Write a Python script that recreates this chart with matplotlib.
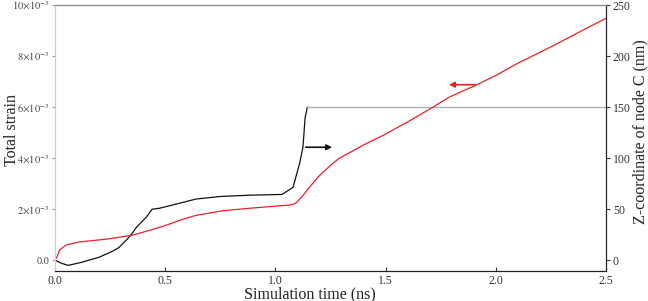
import matplotlib
matplotlib.use("Agg")
import matplotlib.pyplot as plt
from matplotlib.ticker import FuncFormatter

plt.rcParams['font.family'] = ['Liberation Serif', 'DejaVu Serif']
plt.rcParams['mathtext.fontset'] = 'stix'

# total strain (left axis, units of 1e-3)
t_strain = [0.0, 0.03, 0.06, 0.12, 0.2, 0.26, 0.29, 0.34, 0.37, 0.415, 0.44, 0.475,
            0.53, 0.64, 0.75, 0.88, 1.03, 1.08, 1.11, 1.125, 1.135, 1.145]
strain = [0.0, -0.12, -0.2, -0.08, 0.12, 0.35, 0.5, 0.94, 1.3, 1.7, 2.0, 2.04,
          2.16, 2.4, 2.5, 2.55, 2.58, 2.86, 3.8, 4.43, 5.6, 6.0]
# plateau after failure
t_flat = [1.145, 2.5]
strain_flat = [6.0, 6.0]

# Z-coordinate of node C (right axis, nm)
t_z = [0.0, 0.01, 0.02, 0.05, 0.11, 0.23, 0.35, 0.43, 0.5, 0.57, 0.64, 0.76, 0.885, 1.0,
       1.06, 1.09, 1.12, 1.16, 1.2, 1.25, 1.29, 1.35, 1.4, 1.49, 1.6, 1.715, 1.79,
       1.9, 2.0, 2.1, 2.25, 2.4, 2.5]
z = [0.0, 4.0, 10.0, 15.0, 18.0, 20.6, 24.5, 29.4, 34.0, 39.5, 44.0, 48.5, 51.0, 53.0,
     54.0, 55.5, 62.0, 73.0, 83.0, 93.0, 100.0, 107.0, 113.0, 122.5, 135.5, 150.0,
     160.0, 170.5, 181.0, 193.0, 209.0, 226.0, 237.0]

xticks = [0.0, 0.5, 1.0, 1.5, 2.0, 2.5]
yticks_left = [0, 2, 4, 6, 8, 10]
yticks_right = [0, 50, 100, 150, 200, 250]


def strain_fmt(v, pos):
    if v == 0:
        return "0.0"
    return r"$%d{\times}10^{-3}$" % int(round(v))


fig = plt.figure(figsize=(6.48, 3.01), dpi=100)
ax = fig.add_axes([0.085, 0.0997, 0.85, 0.8833])
ax2 = ax.twinx()

ax.plot(t_strain, strain, color='#111111', lw=0.9)
ax.plot(t_flat, strain_flat, color='#b0b0b0', lw=1.0)
ax2.plot(t_z, z, color='#e8202a', lw=0.9)

ax.set_xlim(0, 2.5)
ax.set_ylim(-0.42, 10)
ax2.set_ylim(-10.5, 250)
ax.set_xticks(xticks)
ax.set_yticks(yticks_left)
ax2.set_yticks(yticks_right)
ax.xaxis.set_major_formatter(FuncFormatter(lambda v, p: "%.1f" % v))
ax.yaxis.set_major_formatter(FuncFormatter(strain_fmt))

ax.tick_params(axis='x', direction='in', length=3, labelsize=8.5, colors='#333333', pad=3)
ax.tick_params(axis='y', direction='out', length=2, labelsize=7.5, colors='#999999',
               labelcolor='#444444', pad=2)
ax2.tick_params(axis='y', direction='out', length=3, labelsize=8.5, colors='#333333', pad=2)

for a in (ax, ax2):
    a.spines['left'].set_color('#cccccc')
    a.spines['top'].set_color('#888888')
    a.spines['right'].set_color('#222222')
    a.spines['bottom'].set_color('#222222')

# axis titles placed by hand to sit like the original
fig.text(310 / 648, 1 - 294 / 301, 'Simulation time (ns)', fontsize=11.5,
         ha='center', va='center', color='#222222')
fig.text(12 / 648, 1 - 130 / 301, 'Total strain', fontsize=11.5, rotation=90,
         ha='center', va='center', color='#222222')
fig.text(640 / 648, 1 - 132 / 301, 'Z-coordinate of node C (nm)', fontsize=11.5,
         rotation=90, ha='center', va='center', color='#222222')

# arrows pointing to the axis each curve belongs to
ax.annotate('', xy=(1.27, 4.43), xytext=(1.125, 4.43),
            arrowprops=dict(arrowstyle='-|>', color='#111111', lw=1.2, mutation_scale=8))
ax2.annotate('', xy=(1.775, 172), xytext=(1.92, 172),
             arrowprops=dict(arrowstyle='-|>', color='#e8202a', lw=1.2, mutation_scale=8))

fig.savefig('out.png', dpi=100)
